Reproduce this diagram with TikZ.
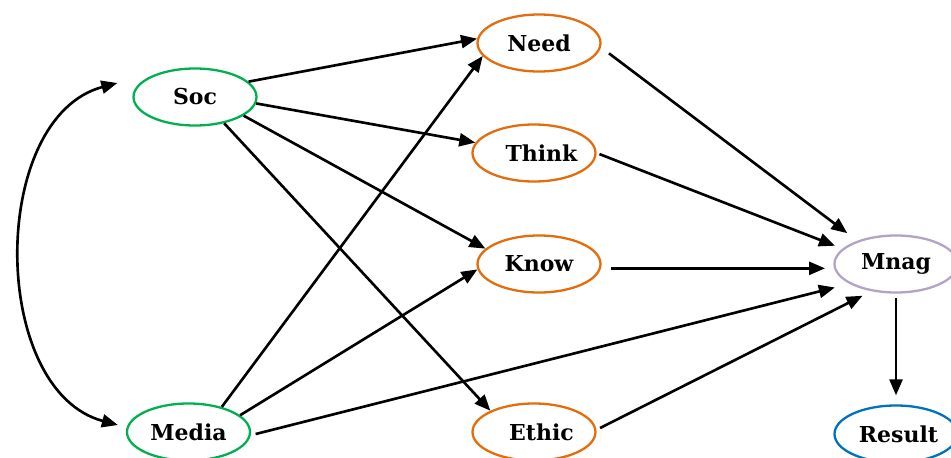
\documentclass[tikz,border=0pt]{standalone}
\usepackage{fontspec}
\setmainfont{DejaVu Serif}
\usetikzlibrary{shapes.geometric,arrows.meta}

\definecolor{socgreen}{RGB}{0,176,80}
\definecolor{midorange}{RGB}{228,108,10}
\definecolor{mnagpurple}{RGB}{179,162,199}
\definecolor{resblue}{RGB}{0,112,192}

\begin{document}
\begin{tikzpicture}[
		>={Triangle[length=0.32cm,width=0.26cm]},
		var/.style={ellipse,draw,line width=1.3pt,minimum width=2.46cm,minimum height=1.14cm,inner sep=0pt,font=\fontsize{12.5}{14}\selectfont\bfseries},
		link/.style={->,line width=1.5pt}]
		\useasboundingbox (0,0) rectangle (19.02,9.14);
		% path model
		\node[var,draw=socgreen] (Soc) at (3.90,7.20) {Soc\hspace{0.48cm}};
		\node[var,draw=socgreen] (Media) at (3.77,0.50) {Media};
		\node[var,draw=midorange] (Need) at (10.78,8.28) {Need};
		\node[var,draw=midorange] (Think) at (10.68,6.08) {\hspace{0.3cm}Think};
		\node[var,draw=midorange] (Know) at (10.78,3.86) {Know};
		\node[var,draw=midorange] (Ethic) at (10.68,0.50) {\hspace{0.3cm}Ethic};
		\node[var,draw=mnagpurple] (Mnag) at (17.92,3.86) {Mnag};
		\node[var,draw=resblue] (Result) at (17.92,0.46) {\hspace{0.1cm}Result};

		\draw[link] (Soc.16) to (Need.176);
		\draw[link] (Soc.-6) to (Think.170);
		\draw[link] (Soc.-21) to (Know.164);
		\draw[link] (Soc.-42) to (Ethic.154);
		\draw[link] (Media.37) to (Need.193);
		\draw[link] (Media.18) to (Know.185);
		\draw[link,shorten <=0.1cm,shorten >=0.3cm] (Media.-3) to (Mnag.203);
		\draw[link,shorten <=0.2cm,shorten >=0.25cm] (Need.-4) to (Mnag.149);
		\draw[link,shorten <=0.06cm,shorten >=0.16cm] (Think.0) to (Mnag.164);
		\draw[link,shorten <=0.2cm,shorten >=0.18cm] (Know.-4) to (Mnag.184);
		\draw[link,shorten <=0.08cm,shorten >=0.2cm] (Ethic.2) to (Mnag.228);
		\draw[link,shorten <=0.08cm,shorten >=0.18cm] (Mnag.south) to (Result.north);
		\draw[link,<->] ([xshift=-0.3cm,yshift=0.28cm]Soc.west) to[out=195,in=165,looseness=1.0] ([xshift=-0.16cm,yshift=0.14cm]Media.west);
\end{tikzpicture}
\end{document}
